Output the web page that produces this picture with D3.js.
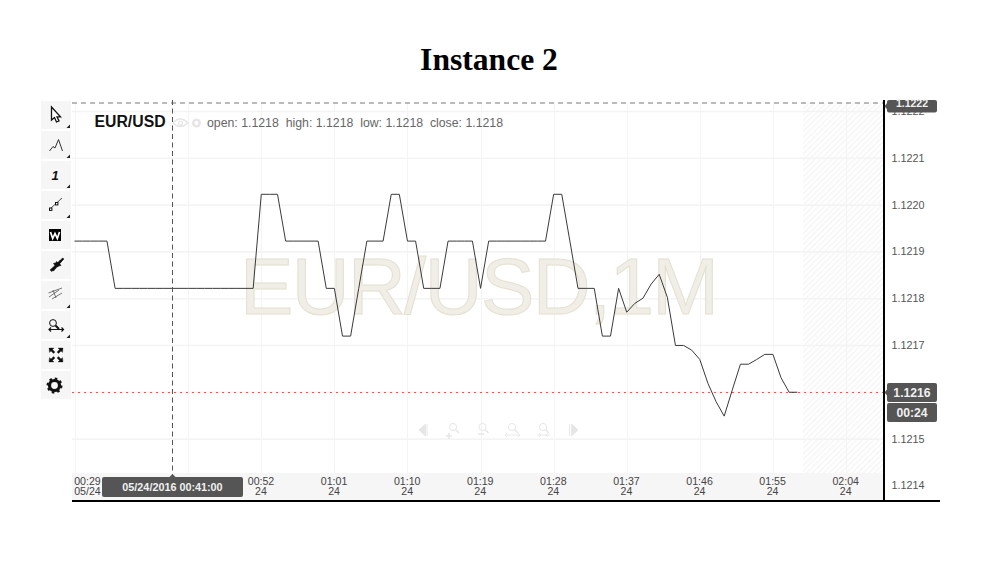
<!DOCTYPE html>
<html><head><meta charset="utf-8">
<script src="https://cdn.jsdelivr.net/npm/d3@7"></script>
<style>
html,body{margin:0;padding:0;background:#fff}
svg{display:block}
text{font-family:"Liberation Sans",Arial,sans-serif}
</style></head><body>
<svg id="c" width="1004" height="578"></svg>
<script>
const chartTitle = "Instance 2";
const symbol = "EUR/USD";
const watermark = "EUR/USD,1M";
const legendText = "open: 1.1218  high: 1.1218  low: 1.1218  close: 1.1218";
const crosshairTime = "00:41";
const crosshairLabel = "05/24/2016 00:41:00";
const topPriceLabel = "1.1222";
const lastPrice = 1.1216;
const lastPriceLabel = "1.1216";
const countdown = "00:24";
const minutes = ["00:29","00:30","00:31","00:32","00:33","00:34","00:35","00:36","00:37","00:38","00:39","00:40","00:41","00:42","00:43","00:44","00:45","00:46","00:47","00:48","00:49","00:50","00:51","00:52","00:53","00:54","00:55","00:56","00:57","00:58","00:59","01:00","01:01","01:02","01:03","01:04","01:05","01:06","01:07","01:08","01:09","01:10","01:11","01:12","01:13","01:14","01:15","01:16","01:17","01:18","01:19","01:20","01:21","01:22","01:23","01:24","01:25","01:26","01:27","01:28","01:29","01:30","01:31","01:32","01:33","01:34","01:35","01:36","01:37","01:38","01:39","01:40","01:41","01:42","01:43","01:44","01:45","01:46","01:47","01:48","01:49","01:50","01:51","01:52","01:53","01:54","01:55","01:56","01:57","01:58"];
const closes = [1.121922,1.121922,1.121922,1.121922,1.121922,
1.121821,1.121821,1.121821,1.121821,1.121821,1.121821,1.121821,1.121821,1.121821,1.121821,1.121821,1.121821,1.121821,1.121821,1.121821,1.121821,1.121821,1.121821,
1.122022,1.122022,1.122022,
1.121922,1.121922,1.121922,1.121922,1.121922,
1.121821,1.121821,1.121719,1.121719,1.121821,
1.121922,1.121922,1.121922,1.122022,1.122022,1.121922,1.121922,
1.121821,1.121821,1.121821,
1.121922,1.121922,1.121922,1.121922,1.121821,
1.121922,1.121922,1.121922,1.121922,1.121922,1.121922,1.121922,1.121922,
1.122022,1.122022,1.121922,1.121821,1.121821,1.121821,1.121719,1.121719,1.121821,
1.121770,1.121789,1.121800,1.121830,1.121851,1.121802,1.121699,1.121699,1.121689,1.121669,1.121618,1.121579,1.121548,1.121604,1.121659,1.121659,1.121669,1.121680,1.121680,1.121630,1.121599,1.121599];
const timeTicks = ["00:29","00:43","00:52","01:01","01:10","01:19","01:28","01:37","01:46","01:55","02:04"];
const dateTicks = ["05/24","24","24","24","24","24","24","24","24","24","24"];
const priceTicks = [1.1214,1.1215,1.1216,1.1217,1.1218,1.1219,1.1220,1.1221,1.1222];

const parse = d3.timeParse("%H:%M");
const x = d3.scaleTime().domain([parse("00:29"),parse("02:04")]).range([74.5,846]);
const y = d3.scaleLinear().domain([1.1214,1.1222]).range([485.4,111]);
const svg = d3.select("#c");
const L=72,R=884,T=103,B=473;

// title
svg.append("text").attr("x",489).attr("y",70).attr("text-anchor","middle")
  .style("font-family","'Liberation Serif',serif").style("font-weight","bold").style("font-size","31.6px").attr("fill","#000").text(chartTitle);

// hatch
const defs=svg.append("defs");
const p=defs.append("pattern").attr("id","hatch").attr("width",4).attr("height",4).attr("patternUnits","userSpaceOnUse").attr("patternTransform","rotate(45)");
p.append("rect").attr("width",4).attr("height",4).attr("fill","#fff");
p.append("rect").attr("width",1.6).attr("height",4).attr("fill","#f6f6f6");
svg.append("rect").attr("x",803).attr("y",T).attr("width",R-803).attr("height",B-T).attr("fill","url(#hatch)");

// axis band
svg.append("rect").attr("x",L).attr("y",B).attr("width",R-L).attr("height",27).attr("fill","#f6f6f6");

// grid
const gridColor="#f4f4f4";
const gx=svg.append("g").attr("transform",`translate(0,${B})`)
  .call(d3.axisBottom(x).tickValues(timeTicks.map(parse)).tickSize(-(B-T)).tickFormat(""));
gx.select(".domain").remove();
gx.selectAll("line").attr("stroke",gridColor).attr("stroke-width",1).attr("shape-rendering","crispEdges");
const gy=svg.append("g").attr("transform",`translate(${R},0)`)
  .call(d3.axisLeft(y).tickValues(priceTicks.filter(v=>v>1.1214)).tickSize(R-L).tickFormat(""));
gy.select(".domain").remove();
gy.selectAll("line").attr("stroke",gridColor).attr("stroke-width",1.6);

// watermark
svg.append("text").attr("x",240).attr("y",314).style("font-size","80px").style("letter-spacing","-1.6px")
  .attr("fill","#f0eee7").attr("stroke","#e5e0cf").attr("stroke-width",1).text(watermark);

// red last price line
const redY=Math.round(y(lastPrice))+0.5;
svg.append("line").attr("x1",L).attr("x2",R).attr("y1",redY).attr("y2",redY)
  .attr("stroke","#f4574a").attr("stroke-width",1).attr("stroke-dasharray","2 4");

// price line
const line=d3.line().x((d,i)=>x(parse(minutes[i]))).y(d=>y(d));
svg.append("path").datum(closes).attr("d",line).attr("fill","none").attr("stroke","#3a3a3a").attr("stroke-width",1);

// crosshair
svg.append("line").attr("x1",L).attr("x2",R).attr("y1",T).attr("y2",T).attr("stroke","#777").attr("stroke-dasharray","5 4");
const cx=Math.round(x(parse(crosshairTime)))+0.5;
svg.append("line").attr("x1",cx).attr("x2",cx).attr("y1",T-3).attr("y2",476).attr("stroke","#555").attr("stroke-dasharray","5 3.5");

// x labels
const ax=svg.append("g").attr("transform",`translate(-0.8,${B})`)
  .call(d3.axisBottom(x).tickValues(timeTicks.map(parse)).tickSize(0).tickFormat(""));
ax.select(".domain").remove();
ax.selectAll(".tick text").each(function(d,i){
  const t=d3.select(this).attr("y",0).attr("dy",0).attr("fill","#444").style("font-size","10.6px");
  t.attr("text-anchor",i===0?"start":"middle").attr("x",0);
  t.append("tspan").attr("x",0).attr("y",12).text(timeTicks[i]);
  t.append("tspan").attr("x",0).attr("y",22).text(dateTicks[i]);
});

// y labels
const ay=svg.append("g").attr("transform",`translate(891.4,0)`)
  .call(d3.axisRight(y).tickValues(priceTicks).tickSize(0).tickPadding(0).tickFormat(d3.format(".4f")));
ay.select(".domain").remove();
ay.selectAll("text").attr("fill","#555").style("font-size","10.8px").style("font-family","'Liberation Sans',Arial,sans-serif");

// frame lines
svg.append("rect").attr("x",883).attr("y",T-3).attr("width",2).attr("height",B+27-T+3).attr("fill","#000");
svg.append("rect").attr("x",L).attr("y",500).attr("width",940-L).attr("height",2).attr("fill","#000");

// crosshair date label
svg.append("rect").attr("x",102).attr("y",477).attr("width",141).attr("height",20).attr("rx",2).attr("fill","#555");
svg.append("path").attr("d",`M${cx-3},477L${cx},474L${cx+3},477Z`).attr("fill","#555");
svg.append("text").attr("x",172.5).attr("y",490.5).attr("text-anchor","middle").attr("fill","#f0f0f0")
  .style("font-size","10.8px").style("font-weight","bold").text(crosshairLabel);

// price labels
function tag(y0,h,label,size,tip,base){
  svg.append("rect").attr("x",887).attr("y",y0).attr("width",50).attr("height",h).attr("rx",2).attr("fill","#555");
  if(tip) svg.append("path").attr("d",`M887,${y0+h/2-3}L884.5,${y0+h/2}L887,${y0+h/2+3}Z`).attr("fill","#555");
  svg.append("text").attr("x",912).attr("y",base).attr("text-anchor","middle").attr("fill","#f0f0f0")
    .style("font-size",size+"px").style("font-weight","bold").text(label);
}
tag(100,12.5,topPriceLabel,10.5,true,107);
tag(383,19,lastPriceLabel,12.2,true,396.5);
tag(403,19,countdown,12.2,false,416.5);

// legend
svg.append("text").attr("x",94.5).attr("y",127).attr("fill","#111").style("font-size","15.8px").style("font-weight","bold").text(symbol);
svg.append("text").attr("x",207).attr("y",127).attr("fill","#666").style("font-size","12.3px").style("white-space","pre").attr("xml:space","preserve").text(legendText);
// eye, gear (legend)
const lg=svg.append("g").attr("fill","none").attr("stroke","#e6e6e6");
lg.append("path").attr("d","M173,123Q180,115 188,123Q180,130 173,123Z").attr("stroke-width",1.4);
lg.append("circle").attr("cx",180.5).attr("cy",123).attr("r",2).attr("stroke-width",1.2);
lg.append("circle").attr("cx",196.5).attr("cy",123).attr("r",3.2).attr("stroke-width",2.6);

// toolbar
const btnTops=[101,131,161,191,221,251,281,311,341,371];
const btnCorner=[1,1,1,1,0,0,1,1,0,0];
const tb=svg.append("g");
btnTops.forEach((t,i)=>{
  tb.append("rect").attr("x",41).attr("y",t).attr("width",30).attr("height",28).attr("fill","#f6f6f6");
  if(btnCorner[i]) tb.append("path").attr("d",`M70,${t+23.5}V${t+27}H66.5Z`).attr("fill","#222");
});
const ic=(d,o={})=>tb.append("path").attr("d",d).attr("fill",o.fill||"none").attr("stroke",o.stroke||"#111").attr("stroke-width",o.w||1);
// cursor
ic("M51.5,107V120L54.5,117.5L56.5,122L59,121L57,116.8H60.5Z",{fill:"#fff",w:1.3});
// zigzag
ic("M49.5,151L53,146.5L55,148L58.5,139.5L62.5,151",{stroke:"#333",w:1});
// 1
tb.append("text").attr("x",55).attr("y",180).attr("text-anchor","middle").attr("fill","#111").style("font-size","13px").style("font-weight","bold").style("font-style","italic").text("1");
// trend line
ic("M50,209L62,198",{stroke:"#333",w:0.9});
tb.append("rect").attr("x",49.5).attr("y",208).attr("width",2.4).attr("height",2.4).attr("fill","#fff").attr("stroke","#111");
tb.append("rect").attr("x",55.5).attr("y",202.5).attr("width",2.4).attr("height",2.4).attr("fill","#fff").attr("stroke","#111");
// W
tb.append("rect").attr("x",49).attr("y",229).attr("width",12).attr("height",12).attr("fill","#000");
ic("M50.5,232L52.7,238.5L55,233.5L57.3,238.5L59.5,232",{stroke:"#fff",w:1.7});
// pinch
ic("M50,270L55,265.5L53.5,263.5L58.5,262L58,267L56.5,266L52,271.5Z",{fill:"#111",w:0.6});
ic("M64,259L59.5,263.5L61,265.5L56,266.5L56.5,261.5L58,263L62.5,258Z",{fill:"#111",w:0.6});
tb.append("rect").attr("x",56).attr("y",259).attr("width",2.5).attr("height",13).attr("fill","#111").attr("transform","rotate(40 57 265)");
// fork
ic("M49,297L59,290M48.5,293L62,288M52,299L62,293M53,290L56,298",{stroke:"#555",w:0.8});
// zoom range
tb.append("circle").attr("cx",53).attr("cy",323).attr("r",3.4).attr("fill","none").attr("stroke","#111").attr("stroke-width",1);
ic("M55.5,325.5L59,329",{w:2});
ic("M49,329.5H63.5M51,327.5L49,329.5L51,331.5M61.5,327.5L63.5,329.5L61.5,331.5",{w:1.2});
// fullscreen
[[49,348,1,1],[63,348,-1,1],[49,362,1,-1],[63,362,-1,-1]].forEach(([a,b,s,u])=>{
  ic(`M${a},${b}h${5*s}l${-1.5*s},${1.5*u}l${2.5*s},${2.5*u}l${-1.5*s},${1.5*u}l${-2.5*s},${-2.5*u}l${-1.5*s},${1.5*u}Z`,{fill:"#111",w:0.3});
});
// gear
tb.append("circle").attr("cx",54.5).attr("cy",385.5).attr("r",5).attr("fill","none").attr("stroke","#111").attr("stroke-width",3.2);
tb.append("circle").attr("cx",54.5).attr("cy",385.5).attr("r",7).attr("fill","none").attr("stroke","#111").attr("stroke-width",2).attr("stroke-dasharray","2.6 2.9");

// navigation icons
const nav=svg.append("g").attr("fill","none").attr("stroke","#e8e8e8").attr("stroke-width",1);
nav.append("path").attr("d","M419,430L425.5,424V436Z").attr("fill","#e6e6e6");
nav.append("path").attr("d","M427,424V436");
nav.append("path").attr("d","M578,430L571.5,424V436Z").attr("fill","#e6e6e6");
nav.append("path").attr("d","M569.5,424V436");
[453,482.5,512,543].forEach(c=>{
  nav.append("circle").attr("cx",c).attr("cy",427).attr("r",3.6);
  nav.append("path").attr("d",`M${c+2.6},429.6L${c+6},433`).attr("stroke-width",1.5);
});
nav.append("path").attr("d","M446,436H452M449,433V439").attr("stroke-width",1.6);
nav.append("path").attr("d","M478,434H484").attr("stroke-width",1.6);
nav.append("path").attr("d","M505,435H520M507,433L505,435L507,437M518,433L520,435L518,437");
nav.append("path").attr("d","M537,435H550M539,433L541,435L539,437M548,433L546,435L548,437");
</script>
</body></html>
